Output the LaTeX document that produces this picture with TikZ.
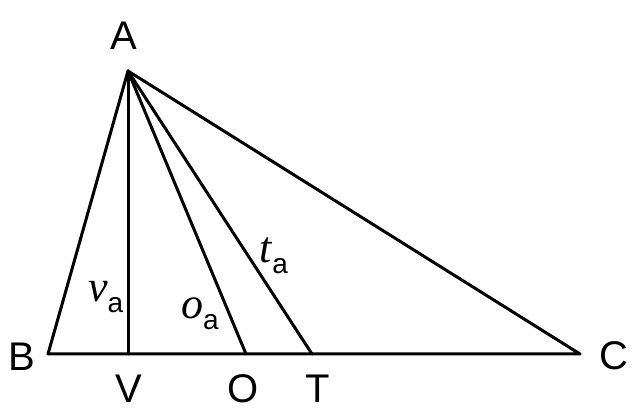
\documentclass[tikz,border=0pt]{standalone}
\usepackage{fontspec}
\setmainfont{Liberation Serif}
\setsansfont{Liberation Sans}
\begin{document}
\begin{tikzpicture}[x=1pt,y=-1pt,
  edge/.style={line width=3pt,line join=round,line cap=round},
  ptlabel/.style={font=\sffamily\fontsize{40}{40}\selectfont,inner sep=0pt},
  seglabel/.style={inner sep=0pt,anchor=base west}]
\useasboundingbox (0,0) rectangle (632,411);
\coordinate (A) at (128,71);
\coordinate (B) at (48,354);
\coordinate (C) at (580,354);
\coordinate (V) at (128,354);
\coordinate (O) at (246,354);
\coordinate (T) at (312,354);
\draw[edge] (A) -- (B) -- (C) -- cycle;
\draw[edge] (A) -- (V);
\draw[edge] (A) -- (O);
\draw[edge] (A) -- (T);
\node[ptlabel] (lA) at (124,36) {A};
\node[ptlabel] (lB) at (22,357) {B};
\node[ptlabel] (lC) at (614,356) {C};
\node[ptlabel] (lV) at (129,389) {V};
\node[ptlabel] (lO) at (243,389) {O};
\node[ptlabel] (lT) at (318,389) {T};
\node[seglabel] (lva) at (88,302) {\fontsize{44}{44}\selectfont\textit{v}\raisebox{-0.25em}{\sffamily\fontsize{28}{28}\selectfont a}};
\node[seglabel] (loa) at (181,319) {\fontsize{44}{44}\selectfont\textit{o}\raisebox{-0.25em}{\sffamily\fontsize{28}{28}\selectfont a}};
\node[seglabel] (lta) at (259,263) {\fontsize{44}{44}\selectfont\textit{t}\raisebox{-0.25em}{\sffamily\fontsize{28}{28}\selectfont a}};
\end{tikzpicture}
\end{document}
